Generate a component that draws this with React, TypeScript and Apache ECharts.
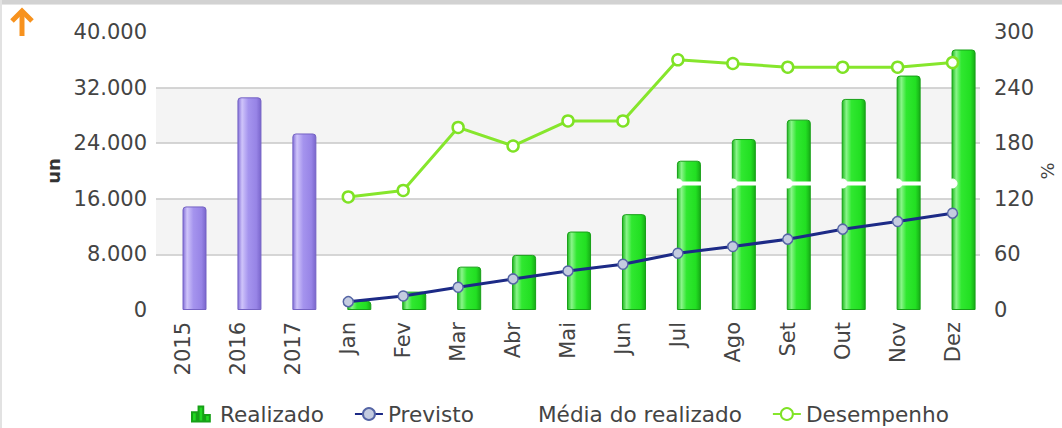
import React, { useEffect, useRef } from "react";
import * as echarts from "echarts";

const categories = ["2015", "2016", "2017", "Jan", "Fev", "Mar", "Abr", "Mai", "Jun", "Jul", "Ago", "Set", "Out", "Nov", "Dez"];
const yearValues = [14900, 30600, 25400];
const realizado = [1300, 2640, 6240, 7930, 11290, 13790, 21480, 24600, 27390, 30370, 33730, 37480];
const previsto = [1200, 2020, 3270, 4470, 5620, 6580, 8170, 9130, 10190, 11630, 12730, 13930];
const mediaRealizado = [18200, 18200, 18200, 18200, 18200, 18200, 18200, 18200, 18200, 18200, 18200, 18200];
const desempenho = [122, 129, 197, 177, 204, 204, 270, 266, 262, 262, 262, 267];
const leftTicks = { min: 0, max: 40000, interval: 8000 };
const rightTicks = { min: 0, max: 300, interval: 60 };

const fmt = (v: number) => String(v).replace(/\B(?=(\d{3})+(?!\d))/g, ".");
const pad3 = ["-", "-", "-"];
const FONT = "DejaVu Sans";
const FS = 21;

export default function App() {
  const ref = useRef<HTMLDivElement>(null);
  useEffect(() => {
    if (!ref.current) return;
    const chart = echarts.init(ref.current, undefined, { renderer: "svg" });
    const greenGrad = new echarts.graphic.LinearGradient(0, 0, 1, 0, [
      { offset: 0, color: "#1fbb1f" },
      { offset: 0.18, color: "#8af48a" },
      { offset: 0.4, color: "#30e830" },
      { offset: 0.8, color: "#22df22" },
      { offset: 1, color: "#17ab17" },
    ]);
    const purpleGrad = new echarts.graphic.LinearGradient(0, 0, 1, 0, [
      { offset: 0, color: "#8470d8" },
      { offset: 0.18, color: "#cfc4fa" },
      { offset: 0.45, color: "#a594ee" },
      { offset: 0.8, color: "#9784e6" },
      { offset: 1, color: "#7a66cc" },
    ]);
    chart.setOption({
      animation: false,
      textStyle: { fontFamily: FONT },
      graphic: [
        { type: "rect", shape: { x: 0, y: 0, width: 1062, height: 4 }, style: { fill: "#d2d2d2" } },
        { type: "rect", shape: { x: 0, y: 4, width: 1062, height: 1 }, style: { fill: "#e6e6e6" } },
        { type: "rect", shape: { x: 0, y: 0, width: 2, height: 428 }, style: { fill: "#e2e2e2" } },
        { type: "polyline", shape: { points: [[12, 21], [22, 11], [32, 21]] }, style: { stroke: "#f7921e", lineWidth: 5, fill: null, lineJoin: "miter" } },
        { type: "line", shape: { x1: 22, y1: 13, x2: 22, y2: 36 }, style: { stroke: "#f7921e", lineWidth: 5 } },
      ],
      grid: { left: 156, right: 82, top: 32, bottom: 118, outerBoundsMode: "none", containLabel: false },
      legend: {
        data: [
          { name: "Realizado", icon: "path://M0,6h5v10h-5z M7,0h5v16h-5z M14,9h5v7h-5z", itemStyle: { color: "#22d822" } },
          "Previsto",
          "Média do realizado",
          "Desempenho",
        ],
        top: 398,
        left: 186,
        itemWidth: 28,
        itemHeight: 15,
        itemGap: 30,
        textStyle: { fontSize: 21.6, color: "#444", fontFamily: FONT },
      },
      xAxis: {
        type: "category",
        data: categories,
        axisLine: { show: false },
        axisTick: { show: false },
        axisLabel: { rotate: 90, interval: 0, fontSize: FS, color: "#444", margin: 12, fontFamily: FONT },
      },
      yAxis: [
        {
          type: "value",
          ...leftTicks,
          name: "un",
          nameLocation: "middle",
          nameGap: 94,
          nameMoveOverlap: false,
          nameTextStyle: { fontWeight: "bold", fontSize: 18, color: "#333", fontFamily: FONT },
          axisLabel: { formatter: fmt, fontSize: FS, color: "#444", margin: 9, fontFamily: FONT },
          axisLine: { show: false },
          axisTick: { show: false },
          splitLine: { show: true, showMinLine: false, showMaxLine: false, lineStyle: { color: "#c8c8c8", width: 1.5 } },
          splitArea: { show: true, areaStyle: { color: ["rgba(255,255,255,0)", "#f4f4f4"] } },
        },
        {
          type: "value",
          ...rightTicks,
          name: "%",
          nameLocation: "middle",
          nameGap: 58,
          nameMoveOverlap: false,
          nameTextStyle: { fontSize: 18, color: "#444", fontFamily: FONT },
          axisLabel: { fontSize: FS, color: "#444", margin: 14, fontFamily: FONT },
          axisLine: { show: false },
          axisTick: { show: false },
          splitLine: { show: false },
        },
      ],
      series: [
        { name: "_pad", type: "bar", data: categories.map(() => "-"), barWidth: 24, barGap: "-8%" },
        {
          name: "Anos",
          type: "bar",
          stack: "r",
          barWidth: 24,
          barGap: "-8%",
          data: [...yearValues, ...realizado.map(() => "-")],
          itemStyle: { color: purpleGrad, borderColor: "#7563c4", borderWidth: 1, borderRadius: [3, 3, 0, 0] },
        },
        {
          name: "Realizado",
          type: "bar",
          stack: "r",
          barWidth: 24,
          barGap: "-8%",
          data: [...pad3, ...realizado],
          itemStyle: { color: greenGrad, borderColor: "#17a017", borderWidth: 1, borderRadius: [3, 3, 0, 0] },
        },
        {
          name: "Média do realizado",
          type: "line",
          data: [...pad3, ...mediaRealizado],
          symbol: "circle",
          symbolSize: 9,
          lineStyle: { color: "#ffffff", width: 4 },
          itemStyle: { color: "#ffffff", borderColor: "#ffffff" },
          z: 3,
        },
        {
          name: "Previsto",
          type: "line",
          data: [...pad3, ...previsto],
          symbol: "circle",
          symbolSize: 10,
          lineStyle: { color: "#1c2a86", width: 3 },
          itemStyle: { color: "#c4cce0", borderColor: "#5565a5", borderWidth: 1.5 },
          z: 4,
        },
        {
          name: "Desempenho",
          type: "line",
          yAxisIndex: 1,
          data: [...pad3, ...desempenho],
          symbol: "circle",
          symbolSize: 11,
          lineStyle: { color: "#86e62c", width: 3 },
          itemStyle: { color: "#ffffff", borderColor: "#7fe225", borderWidth: 2.5 },
          z: 5,
        },
      ],
    });
    return () => chart.dispose();
  }, []);
  return (
    <div
      ref={ref}
      style={{ position: "fixed", left: 0, top: 0, width: 1062, height: 428, background: "#ffffff" }}
    />
  );
}
